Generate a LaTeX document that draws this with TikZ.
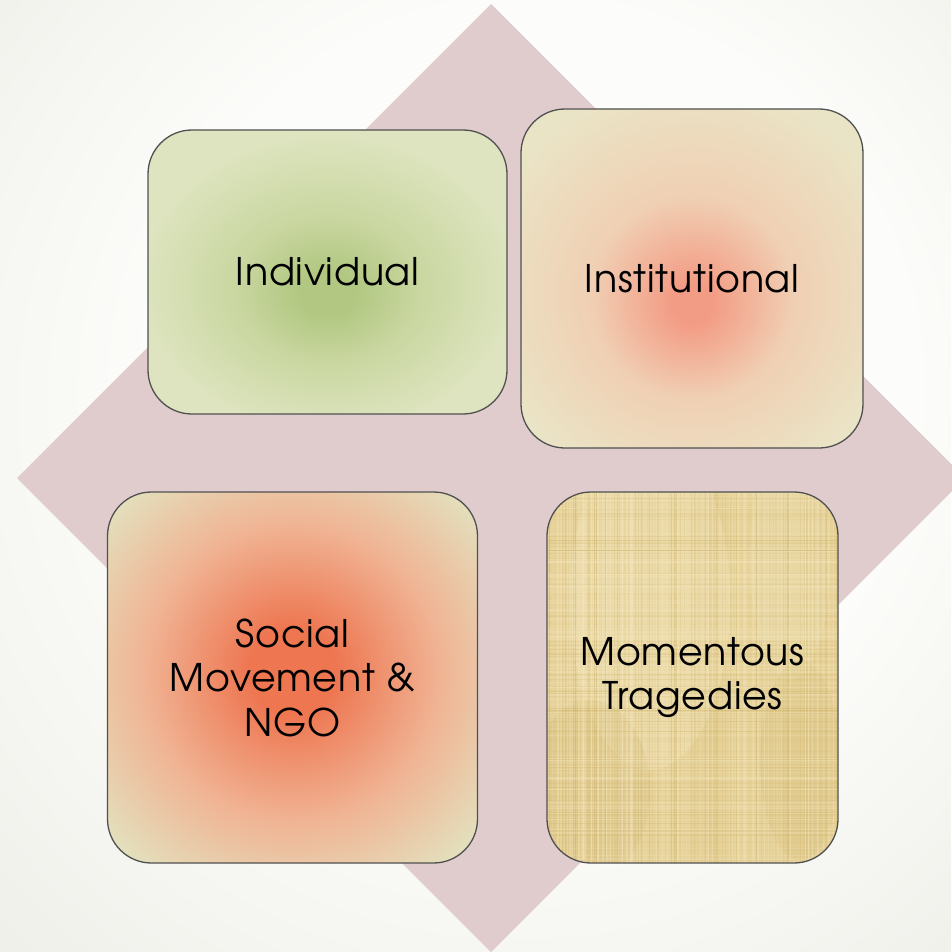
\documentclass[tikz,border=0pt]{standalone}
\usepackage{fontspec}
\setmainfont[LetterSpace=2.0]{TeX Gyre Adventor}
\definecolor{bgin}{HTML}{FCFCFA}
\definecolor{bgout}{HTML}{EEEEE8}
\definecolor{diam}{HTML}{E0CCCD}
\definecolor{indA}{HTML}{B2C882}
\definecolor{indB}{HTML}{CAD7A1}
\definecolor{indC}{HTML}{DDE4BF}
\definecolor{insA}{HTML}{F39C85}
\definecolor{insB}{HTML}{F0D0B4}
\definecolor{insC}{HTML}{EAE4C6}
\definecolor{socA}{HTML}{EE7752}
\definecolor{socB}{HTML}{F0B494}
\definecolor{socC}{HTML}{E2E3C0}
\definecolor{tanA}{HTML}{E6D199}
\definecolor{tanL}{HTML}{F3E6BC}
\definecolor{tanD}{HTML}{CFB56A}
\definecolor{edge}{HTML}{505050}
\pgfdeclareradialshading{indshade}{\pgfpoint{0bp}{-4bp}}{color(0bp)=(indA); color(4bp)=(indA); color(13bp)=(indB); color(26bp)=(indC); color(50bp)=(indC)}
\pgfdeclareradialshading{insshade}{\pgfpoint{0bp}{-4bp}}{color(0bp)=(insA); color(3bp)=(insA); color(15bp)=(insB); color(31bp)=(insC); color(50bp)=(insC)}
\pgfdeclareradialshading{socshade}{\pgfpoint{0bp}{1bp}}{color(0bp)=(socA); color(6bp)=(socA); color(20bp)=(socB); color(34bp)=(socC); color(50bp)=(socC)}
\pgfdeclareradialshading{bgshade}{\pgfpoint{5bp}{8bp}}{color(0bp)=(bgin); color(20bp)=(bgin); color(40bp)=(bgout); color(50bp)=(bgout)}
\tikzset{
  box/.style={draw=edge, line width=1.3pt, rounded corners=44pt, inner sep=0pt,
    align=center, text=black, font=\fontsize{38}{44.5}\selectfont},
}
\begin{document}
\begin{tikzpicture}[x=1pt, y=-1pt]
\useasboundingbox (0,0) rectangle (951,952);
\shade[shading=bgshade] (0,0) rectangle (951,952);
\fill[diam] (491,4) -- (965,478) -- (491,952) -- (17,478) -- cycle;
\node[box, shade, shading=indshade, minimum width=359pt, minimum height=284pt] (ind) at (327.5,272) {Individual};
\node[box, shade, shading=insshade, minimum width=342pt, minimum height=339pt] (ins) at (692,278.5) {Institutional};
\node[box, shade, shading=socshade, minimum width=370pt, minimum height=371pt] (soc) at (292.5,677.5) {Social\\Movement \&\\NGO};
% burlap texture behind the Momentous box
\begin{scope}
  \clip[rounded corners=44pt] (547,492) rectangle (838,863);
  \fill[tanA] (547,492) rectangle (838,863);
  \pgfmathsetseed{7}
  \fill[tanL, opacity=0.4] (650,600) ellipse (80 and 170);
  \fill[tanL, opacity=0.3] (790,560) ellipse (40 and 120);
  \fill[tanD, opacity=0.25] (590,790) ellipse (60 and 90);
  \fill[tanD, opacity=0.2] (800,760) ellipse (40 and 100);
  \foreach \k in {1,...,140}{
    \pgfmathsetmacro\xx{547+291*rnd}
    \pgfmathsetmacro\ww{0.6+1.6*rnd}
    \pgfmathsetmacro\oo{0.12+0.3*rnd}
    \draw[tanL, line width=\ww pt, opacity=\oo] (\xx,485) -- (\xx,870);
  }
  \foreach \k in {1,...,110}{
    \pgfmathsetmacro\xx{547+291*rnd}
    \pgfmathsetmacro\oo{0.12+0.25*rnd}
    \draw[tanD, line width=0.9pt, opacity=\oo] (\xx,485) -- (\xx,870);
  }
  \foreach \k in {1,...,140}{
    \pgfmathsetmacro\yy{492+371*rnd}
    \pgfmathsetmacro\ww{0.5+1.2*rnd}
    \pgfmathsetmacro\oo{0.1+0.25*rnd}
    \draw[tanL, line width=\ww pt, opacity=\oo] (540,\yy) -- (845,\yy);
  }
  \foreach \k in {1,...,90}{
    \pgfmathsetmacro\yy{492+371*rnd}
    \pgfmathsetmacro\oo{0.08+0.2*rnd}
    \draw[tanD, line width=0.8pt, opacity=\oo] (540,\yy) -- (845,\yy);
  }
\end{scope}
\node[box, minimum width=291pt, minimum height=371pt] (mom) at (692.5,677.5) {Momentous\\Tragedies};
\end{tikzpicture}
\end{document}
